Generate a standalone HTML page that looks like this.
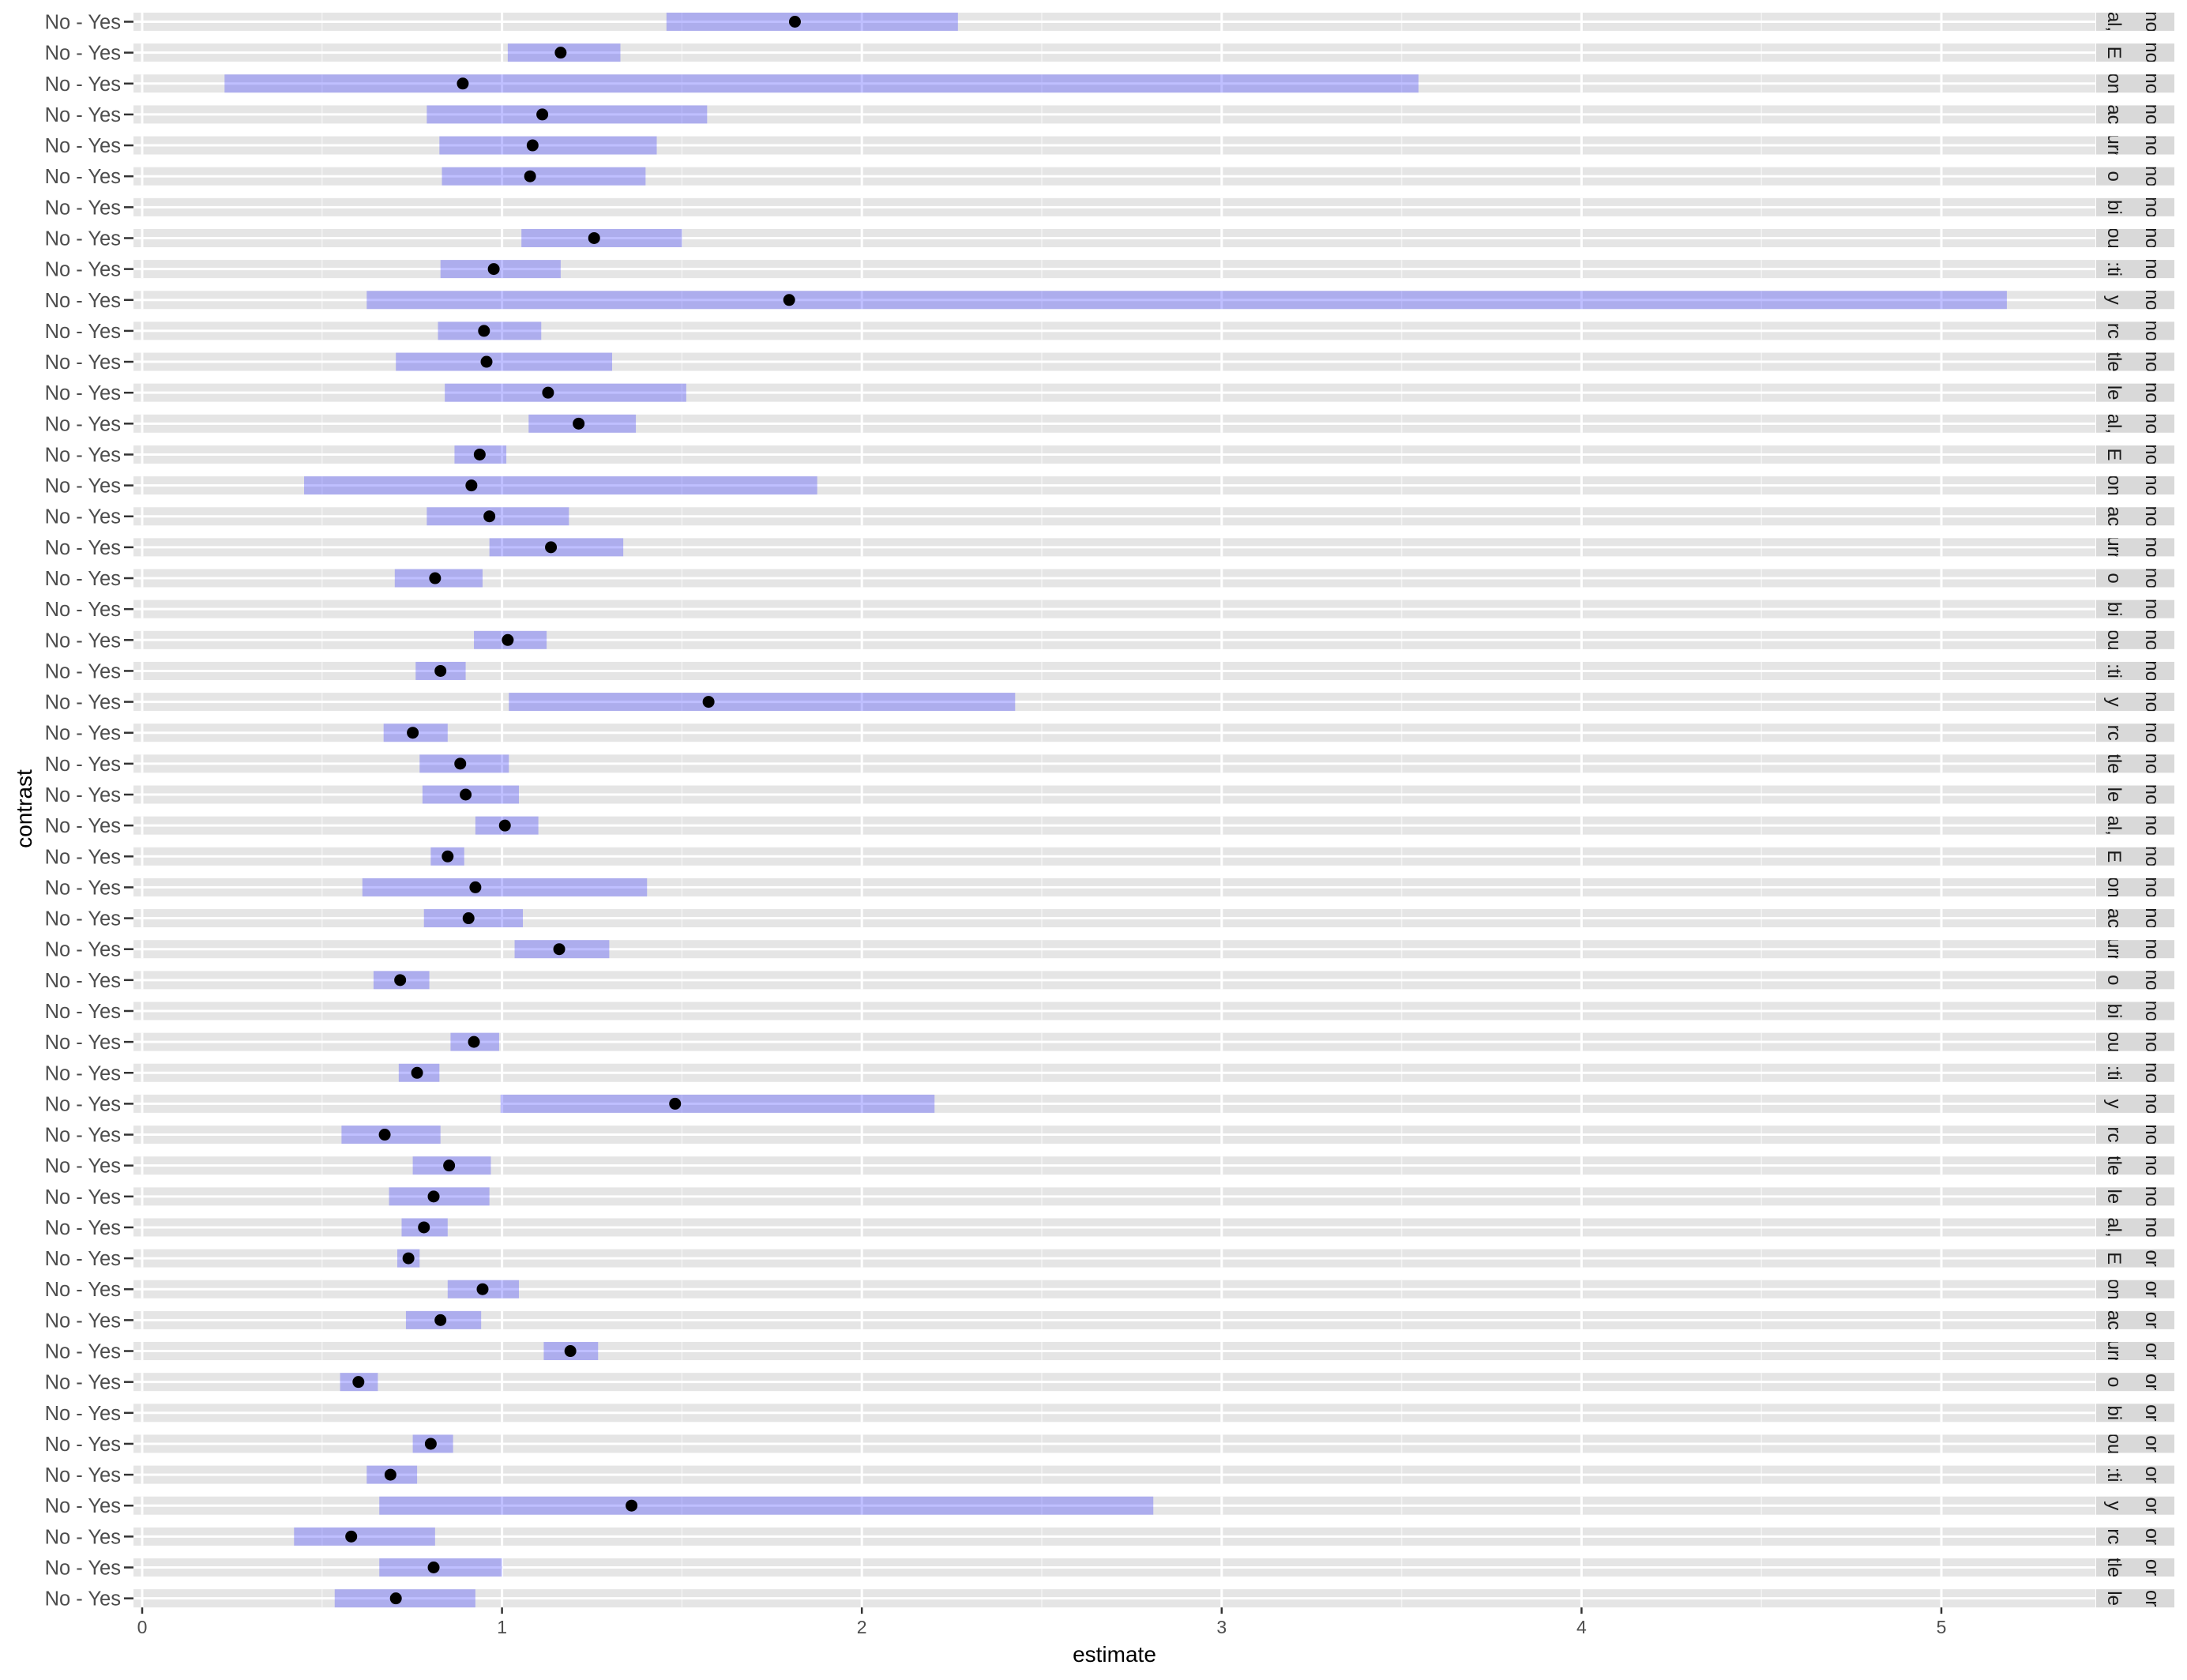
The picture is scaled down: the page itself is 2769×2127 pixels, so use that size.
<!DOCTYPE html>
<html><head><meta charset="utf-8"><style>
html,body{margin:0;padding:0;background:#fff;}
svg{display:block;font-family:"Liberation Sans",Arial,sans-serif;}
</style></head><body>
<svg id="chart" width="2769" height="2127" viewBox="0 0 2769 2127" xmlns="http://www.w3.org/2000/svg">
<g id="panels"></g>
<g id="strips"></g>
<g id="xaxis"></g>
<text x="1411" y="2104" font-size="28" text-anchor="middle" fill="#000">estimate</text>
<text x="0" y="0" font-size="28" text-anchor="middle" fill="#000" transform="translate(40,1024) rotate(-90)">contrast</text>
</svg>
<script>
const lows = [1.457,1.016,0.229,0.791,0.826,0.833,null,1.054,0.829,0.624,0.822,0.705,0.841,1.074,0.868,0.450,0.791,0.965,0.702,null,0.922,0.760,1.019,0.671,0.771,0.779,0.926,0.802,0.612,0.783,1.035,0.643,null,0.857,0.713,0.996,0.554,0.752,0.686,0.721,0.709,0.849,0.733,1.116,0.550,null,0.752,0.624,0.659,0.422,0.659,0.535];
const estimates = [1.814,1.163,0.891,1.112,1.085,1.078,null,1.256,0.977,1.798,0.950,0.957,1.128,1.213,0.938,0.915,0.965,1.136,0.814,null,1.016,0.829,1.574,0.752,0.884,0.899,1.008,0.849,0.926,0.907,1.159,0.717,null,0.922,0.764,1.481,0.674,0.853,0.810,0.783,0.740,0.946,0.829,1.190,0.601,null,0.802,0.690,1.360,0.581,0.810,0.705];
const highs = [2.267,1.329,3.547,1.570,1.430,1.399,null,1.500,1.163,5.182,1.109,1.306,1.512,1.372,1.012,1.876,1.186,1.337,0.946,null,1.124,0.899,2.426,0.849,1.019,1.047,1.101,0.895,1.403,1.058,1.298,0.798,null,0.992,0.826,2.202,0.829,0.969,0.965,0.849,0.771,1.047,0.942,1.267,0.655,null,0.864,0.764,2.810,0.814,1.000,0.926];
const stripA = ["al,","E","on","ac","urr","o","bi","ou",":ti","y","rc","tle","le"];
const xTicks = [0,1,2,3,4,5];
const xMinor = [0.5,1.5,2.5,3.5,4.5];

const NS="http://www.w3.org/2000/svg";
const X0=180, UNIT=455.6, PL=169, PR=2653, TOP0=16, PERIOD=39.14, PH=23;
const xs=v=>X0+v*UNIT;
const rowTop=i=>TOP0+i*PERIOD;
function mk(tag,attrs,parent){const e=document.createElementNS(NS,tag);for(const k in attrs)e.setAttribute(k,attrs[k]);parent.appendChild(e);return e;}
const panels=document.getElementById('panels'), strips=document.getElementById('strips'), xaxis=document.getElementById('xaxis');
const defs=mk('defs',{},document.getElementById('chart'));
const n=estimates.length;
for(let i=0;i<n;i++){
  const t=rowTop(i), cy=t+PH/2;
  const g=mk('g',{},panels);
  
  
  mk('rect',{x:PL,y:t,width:PR-PL,height:PH,fill:'#e5e5e5'},g);
  xMinor.forEach(v=>mk('line',{x1:xs(v),x2:xs(v),y1:t,y2:t+PH,stroke:'#f2f2f2','stroke-width':1.5},g));
  xTicks.forEach(v=>mk('line',{x1:xs(v),x2:xs(v),y1:t,y2:t+PH,stroke:'#fff','stroke-width':3},g));
  mk('line',{x1:PL,x2:PR,y1:cy,y2:cy,stroke:'#fff','stroke-width':3},g);
  if(lows[i]!=null){
    const r=mk('rect',{x:xs(lows[i]),y:t,width:xs(highs[i])-xs(lows[i]),height:PH,fill:'rgba(60,60,255,0.33)'},g);
    
    
    const c=mk('circle',{cx:xs(estimates[i]),cy:cy,r:7.5,fill:'#000'},g);
    
    
  }
  const lab=mk('text',{x:153,y:cy+9,'font-size':25.5,'text-anchor':'end',fill:'#4d4d4d'},g);
  lab.textContent='No - Yes';
  
  
  mk('line',{x1:157,x2:169,y1:cy,y2:cy,stroke:'#333','stroke-width':2.5},g);
  const sg=mk('g',{},strips);
  
  
  mk('rect',{x:2654,y:t,width:99,height:PH,fill:'#d9d9d9'},sg);
  const cp=mk('clipPath',{id:'c'+i},defs);
  mk('rect',{x:2654,y:t,width:99,height:PH},cp);
  const tg=mk('g',{'clip-path':'url(#c'+i+')'},sg);
  const a=mk('text',{x:0,y:0,'font-size':24,'text-anchor':'middle',fill:'#1a1a1a',transform:'translate(2669,'+cy+') rotate(90)'},tg);
  a.textContent=stripA[i%stripA.length];
  const b=mk('text',{x:0,y:0,'font-size':24,'text-anchor':'middle',fill:'#1a1a1a',transform:'translate(2717,'+cy+') rotate(90)'},tg);
  b.textContent=i<40?'no':'or';
}
const bottom=rowTop(n-1)+PH;
xTicks.forEach(v=>{
  mk('line',{x1:xs(v),x2:xs(v),y1:bottom,y2:bottom+8,stroke:'#333','stroke-width':2.5},xaxis);
  const t=mk('text',{x:xs(v),y:bottom+33,'font-size':23,'text-anchor':'middle',fill:'#4d4d4d'},xaxis);
  t.textContent=v;
  
  
});
</script>
</body></html>
